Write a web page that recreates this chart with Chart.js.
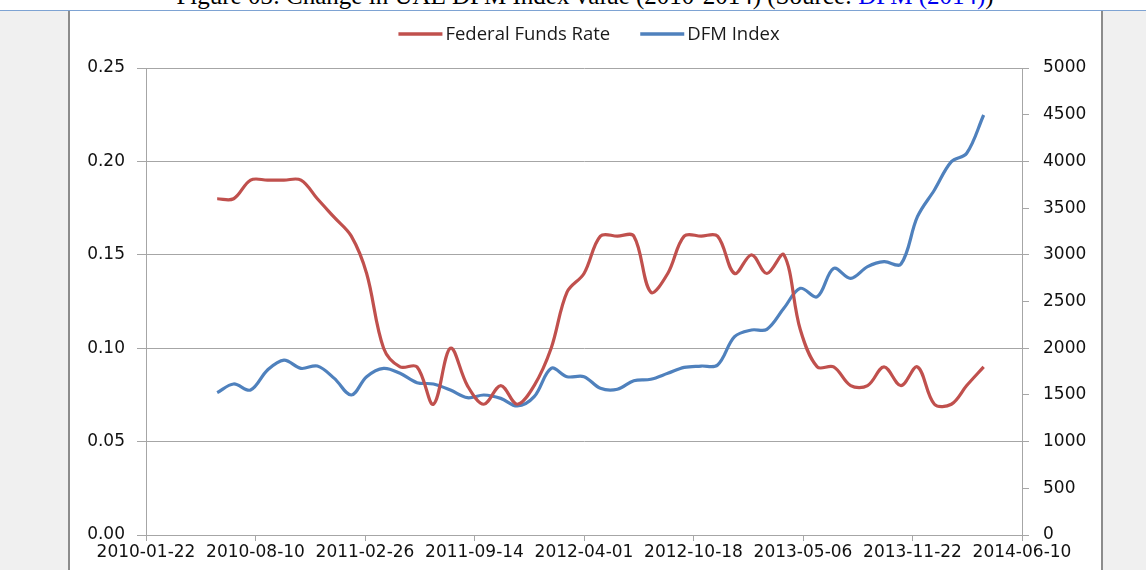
<!DOCTYPE html>
<html>
<head>
<meta charset="utf-8">
<script src="https://cdn.jsdelivr.net/npm/chart.js@4.4.1/dist/chart.umd.min.js"></script>
<style>
  html, body { margin: 0; padding: 0; }
  body { width: 1146px; height: 570px; overflow: hidden; position: relative; background: #f0f0f0; }
  #top { position: absolute; left: 0; top: 0; width: 1146px; height: 10px; background: #fff; border-bottom: 1px solid #7ea3d3; }
  #caption { position: absolute; left: 12px; top: -16px; width: 1146px; text-align: center; white-space: nowrap;
             font-family: 'Liberation Serif', serif; font-size: 25px; line-height: 24px; color: #000; }
  #caption span { color: #0000ee; }
  #frame { position: absolute; left: 68px; top: 11px; width: 1031px; height: 570px; background: #fff;
           border-left: 2px solid #8c8c8c; border-right: 2px solid #8c8c8c; }
  #chart { position: absolute; left: 0; top: 0; }
</style>
</head>
<body>
<div id="top"></div>
<div id="frame"></div>
<div id="caption">Figure 03: Change in UAE DFM Index value (2010-2014) (Source: <span>DFM (2014)</span>)</div>
<canvas id="chart" width="1146" height="570"></canvas>
<script>
// Monthly observations (first day of each month)
const months = [
    '2010-06-01', '2010-07-01', '2010-08-01', '2010-09-01', '2010-10-01', '2010-11-01', '2010-12-01',
    '2011-01-01', '2011-02-01', '2011-03-01', '2011-04-01', '2011-05-01', '2011-06-01',
    '2011-07-01', '2011-08-01', '2011-09-01', '2011-10-01', '2011-11-01', '2011-12-01',
    '2012-01-01', '2012-02-01', '2012-03-01', '2012-04-01', '2012-05-01', '2012-06-01',
    '2012-07-01', '2012-08-01', '2012-09-01', '2012-10-01', '2012-11-01', '2012-12-01',
    '2013-01-01', '2013-02-01', '2013-03-01', '2013-04-01', '2013-05-01', '2013-06-01',
    '2013-07-01', '2013-08-01', '2013-09-01', '2013-10-01', '2013-11-01', '2013-12-01',
    '2014-01-01', '2014-02-01', '2014-03-01', '2014-04-01'
];

const fedFundsRate = [
    0.18, 0.18, 0.19, 0.19, 0.19, 0.19, 0.18,
    0.17, 0.16, 0.14, 0.10, 0.09, 0.09, 0.07, 0.10, 0.08, 0.07, 0.08, 0.07,
    0.08, 0.10, 0.13, 0.14, 0.16, 0.16, 0.16, 0.13, 0.14, 0.16, 0.16, 0.16,
    0.14, 0.15, 0.14, 0.15, 0.11, 0.09, 0.09, 0.08, 0.08, 0.09, 0.08, 0.09,
    0.07, 0.07, 0.08, 0.09
];

const dfmIndex = [
    1524, 1617, 1552, 1767, 1873, 1784, 1809,
    1677, 1499, 1695, 1784, 1731, 1631, 1617, 1552, 1470, 1499, 1463, 1381,
    1481, 1784, 1695, 1695, 1570, 1560, 1652, 1667, 1731, 1795, 1809, 1820,
    2123, 2195, 2202, 2427, 2641, 2551, 2855, 2748, 2873, 2926, 2901, 3408,
    3694, 3997, 4087, 4497
];

// Etiquetas del eje X (cada 200 dias)
const xTickLabels = ['2010-01-22', '2010-08-10', '2011-02-26', '2011-09-14', '2012-04-01',
                     '2012-10-18', '2013-05-06', '2013-11-22', '2014-06-10'];

const dayNum = s => Date.UTC(+s.slice(0, 4), +s.slice(5, 7) - 1, +s.slice(8, 10)) / 86400000;
const day0 = dayNum(xTickLabels[0]);
const toPoints = values => months.map((m, i) => ({ x: dayNum(m) - day0, y: values[i] }));

const tickFont = { family: "'DejaVu Sans'", size: 17 };
const axisColor = '#a6a6a6';

// Leyenda dibujada a mano para fijar su posicion
const lineLegend = {
    id: 'lineLegend',
    afterDraw(chart) {
        const ctx = chart.ctx;
        ctx.save();
        ctx.font = "18.5px 'Open Sans'";
        ctx.textBaseline = 'middle';
        const sample = 44, gap = 3, spacing = 30, y = 34;
        const items = chart.data.datasets.map(ds => ({
            text: ds.label, color: ds.borderColor, w: ctx.measureText(ds.label).width
        }));
        const total = items.reduce((s, it) => s + sample + gap + it.w, 0) + spacing * (items.length - 1);
        let x = (chart.chartArea.left + chart.chartArea.right) / 2 + 5 - total / 2;
        items.forEach(it => {
            ctx.strokeStyle = it.color;
            ctx.lineWidth = 3.5;
            ctx.beginPath();
            ctx.moveTo(x, y);
            ctx.lineTo(x + sample, y);
            ctx.stroke();
            ctx.fillStyle = '#1a1a1a';
            ctx.fillText(it.text, x + sample + gap, y + 1);
            x += sample + gap + it.w + spacing;
        });
        ctx.restore();
    }
};

new Chart(document.getElementById('chart').getContext('2d'), {
    type: 'line',
    data: {
        datasets: [{
            label: 'Federal Funds Rate',
            data: toPoints(fedFundsRate),
            yAxisID: 'y',
            borderColor: '#C0504D',
            backgroundColor: '#C0504D',
            borderWidth: 3.2,
            pointRadius: 0,
            tension: 0.35
        }, {
            label: 'DFM Index',
            data: toPoints(dfmIndex),
            yAxisID: 'y2',
            borderColor: '#4F81BD',
            backgroundColor: '#4F81BD',
            borderWidth: 3.2,
            pointRadius: 0,
            tension: 0.35
        }]
    },
    options: {
        responsive: false,
        animation: false,
        layout: { padding: { left: 70, right: 45, top: 68, bottom: 0 } },
        plugins: {
            legend: { display: false },
            tooltip: { enabled: false }
        },
        scales: {
            x: {
                type: 'linear',
                min: 0,
                max: dayNum(xTickLabels[xTickLabels.length - 1]) - day0,
                afterFit: s => { s.height = 35; },
                ticks: {
                    stepSize: 200,
                    maxRotation: 0,
                    autoSkip: false,
                    padding: 1,
                    color: '#111',
                    font: tickFont,
                    callback: (v, i) => xTickLabels[i]
                },
                grid: { drawOnChartArea: false, color: axisColor, tickLength: 6 },
                border: { color: axisColor }
            },
            y: {
                position: 'left',
                min: 0,
                max: 0.25,
                afterFit: s => { s.width = 76; },
                ticks: {
                    stepSize: 0.05,
                    padding: 12,
                    color: '#111',
                    font: tickFont,
                    callback: v => v.toFixed(2)
                },
                grid: { color: axisColor, tickLength: 9 },
                border: { color: axisColor }
            },
            y2: {
                position: 'right',
                min: 0,
                max: 5000,
                afterFit: s => { s.width = 79; },
                ticks: {
                    stepSize: 500,
                    padding: 14,
                    color: '#111',
                    font: tickFont,
                    callback: v => String(v)
                },
                grid: { drawOnChartArea: false, color: axisColor, tickLength: 7 },
                border: { color: axisColor }
            }
        }
    },
    plugins: [lineLegend]
});
</script>
</body>
</html>
